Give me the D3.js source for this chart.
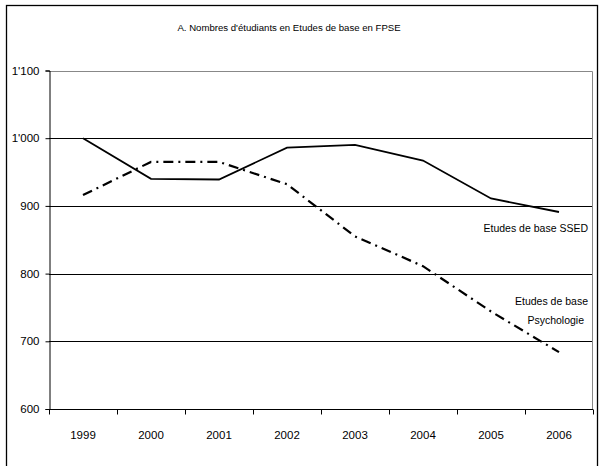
<!DOCTYPE html>
<html><head><meta charset="utf-8">
<script src="https://cdn.jsdelivr.net/npm/d3@7"></script>
<style>body{margin:0;background:#fff}svg text{font-family:"Liberation Sans",Arial,sans-serif;fill:#000}</style>
</head><body>
<svg id="c" width="599" height="466"></svg>
<script>
const years = ["1999","2000","2001","2002","2003","2004","2005","2006"];
const ssed = [1000, 940, 939, 986, 990, 967, 911, 891];
const psycho = [916, 965, 965, 932, 855, 811, 744, 684];
const yTicks = [600, 700, 800, 900, 1000, 1100];
const tickLabels = ["600","700","800","900","1'000","1'100"];
const title = "A. Nombres d'étudiants en Etudes de base en FPSE";

const svg = d3.select("#c");
const L = 49, R = 593, T = 70.5, B = 409;
const x = d3.scaleBand().domain(years).range([L, R]);
const y = d3.scaleLinear().domain([600, 1100]).range([B, T]);

// outer frame
svg.append("rect").attr("x",6.5).attr("y",5.5).attr("width",591).attr("height",470)
  .attr("fill","none").attr("stroke","#000").attr("stroke-width",1.3);

svg.append("text").attr("x",289).attr("y",31).attr("text-anchor","middle")
  .attr("font-size",9.6).text(title);

// gridlines
svg.append("g").selectAll("line").data(yTicks.filter(v=>v>600 && v<1100)).join("line")
  .attr("x1",L).attr("x2",R-1).attr("y1",d=>Math.round(y(d))+0.5).attr("y2",d=>Math.round(y(d))+0.5)
  .attr("stroke","#000").attr("stroke-width",1);
// top and right border of plot
svg.append("path").attr("d",`M${L},${Math.round(y(1100))+0.5}H${R-0.5}V${B}`)
  .attr("fill","none").attr("stroke","#888").attr("stroke-width",1);

// y axis
const ya = d3.axisLeft(y).tickValues(yTicks).tickFormat((d,i)=>tickLabels[i]).tickSize(4).tickPadding(6);
const gy = svg.append("g").attr("transform",`translate(${L+0.5},0)`).call(ya);
gy.select(".domain").attr("stroke","#000");
gy.selectAll("text").attr("font-size",11.5).style("font-family","Liberation Sans, Arial, sans-serif");

// x axis with ticks at band boundaries
const gx = svg.append("g").attr("transform",`translate(0,${Math.round(B)+0.5})`);
gx.append("line").attr("x1",L).attr("x2",R).attr("stroke","#000");
const bounds = years.map(d=>x(d)).concat([R]);
gx.selectAll("line.t").data(bounds).join("line").attr("class","t")
  .attr("x1",d=>Math.round(d)+0.5).attr("x2",d=>Math.round(d)+0.5).attr("y1",0).attr("y2",5).attr("stroke","#000");
gx.selectAll("text").data(years).join("text")
  .attr("x",d=>x(d)+x.bandwidth()/2).attr("y",29).attr("text-anchor","middle")
  .attr("font-size",11.5).text(d=>d);

const line = d3.line().x((d,i)=>x(years[i])+x.bandwidth()/2).y(d=>y(d));
svg.append("path").datum(ssed).attr("d",line).attr("fill","none").attr("stroke","#000").attr("stroke-width",1.8);
svg.append("path").datum(psycho).attr("d",line).attr("fill","none").attr("stroke","#000")
  .attr("stroke-width",2.2).attr("stroke-dasharray","10,5,2,5");

svg.append("text").attr("x",588).attr("y",232).attr("text-anchor","end").attr("font-size",10.5).text("Etudes de base SSED");
svg.append("text").attr("x",588).attr("y",305).attr("text-anchor","end").attr("font-size",10.5).text("Etudes de base");
svg.append("text").attr("x",584).attr("y",324).attr("text-anchor","end").attr("font-size",10.5).text("Psychologie");
</script>
</body></html>
